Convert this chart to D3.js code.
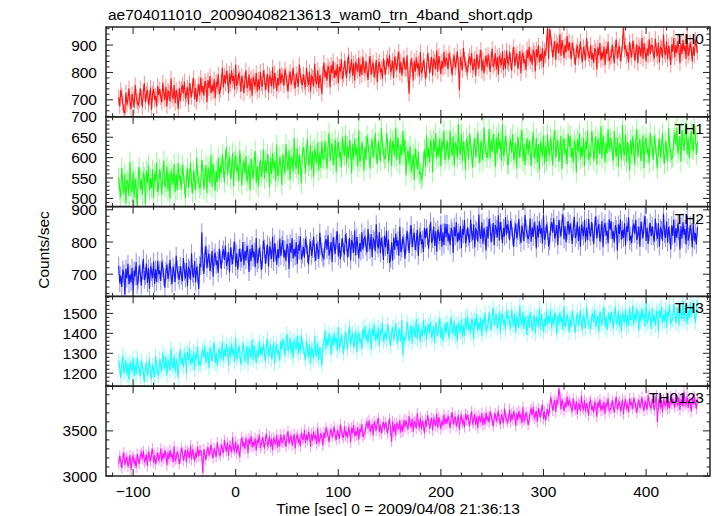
<!DOCTYPE html>
<html><head><meta charset="utf-8">
<script src="https://cdn.jsdelivr.net/npm/d3@7"></script>
<style>
body{margin:0;background:#fff;}
text{font-family:"Liberation Sans",Arial,Helvetica,sans-serif;fill:#000;}
</style></head>
<body><svg id="c" width="717" height="516"></svg>
<script>
// ---- data (1 s bins starting at t = -114 s) ----
const binStart = -114, binSize = 1;
const seriesNames = ["TH0","TH1","TH2","TH3","TH0123"];
const xTicks = [-100, 0, 100, 200, 300, 400];

const th0 = [
709,676,736,715,688,655,652,727,682,703,742,691,667,721,700,673,754,712,694,679,
697,742,709,673,730,760,691,721,736,682,706,745,664,724,739,700,715,676,751,718,
739,709,691,763,721,700,748,676,733,727,694,778,715,703,754,688,736,712,667,742,
695,740,755,722,767,704,719,746,683,761,734,710,752,779,701,743,692,728,758,716,
781,727,751,715,769,757,691,772,742,787,724,754,730,775,706,766,748,793,721,736,
766,817,745,790,760,805,781,724,796,757,808,769,787,739,829,751,763,799,778,730,
787,763,724,772,808,742,754,793,733,778,715,784,766,748,799,730,775,736,802,760,
747,807,783,735,765,795,726,789,777,750,819,741,798,771,732,780,753,813,759,792,
784,751,811,790,763,730,781,802,757,778,817,766,742,796,775,748,829,787,769,754,
793,763,745,817,775,754,802,730,787,781,748,832,769,757,808,742,790,766,721,796,
836,782,806,770,824,812,746,827,797,842,779,809,785,830,761,821,803,848,776,791,
842,818,779,827,863,797,809,848,788,833,770,839,821,803,854,785,830,791,857,815,
797,842,809,773,830,860,791,821,836,782,806,845,764,824,839,800,815,776,851,818,
792,837,852,819,864,801,816,843,780,858,831,807,849,876,798,840,789,825,855,813,
812,863,791,722,806,851,827,770,842,803,854,815,833,785,875,797,809,845,824,776,
809,869,845,797,827,857,788,851,839,812,881,803,860,833,794,842,815,875,821,854,
844,811,871,850,823,790,841,862,817,838,877,826,735,856,835,808,889,847,829,814,
799,844,859,826,871,808,823,850,787,865,838,814,856,883,805,847,796,832,862,820,
865,841,802,850,886,820,832,871,811,856,793,862,844,826,877,808,853,814,880,838,
830,875,842,806,863,893,824,854,869,815,839,878,797,857,872,833,848,809,884,851,
894,840,864,828,882,870,804,885,855,900,837,867,843,888,819,879,861,906,965,849,
958,927,903,855,885,915,846,909,897,870,939,861,918,891,852,900,873,933,879,912,
881,848,908,887,860,827,878,899,854,875,914,863,839,893,872,845,926,884,866,851,
901,847,871,835,889,877,811,892,862,907,844,874,850,895,826,886,868,913,841,856,
857,902,869,833,890,920,851,881,896,842,866,905,975,884,899,860,875,836,911,878,
855,915,891,843,873,903,834,897,885,858,927,849,906,879,840,888,861,921,867,900,
899,869,851,923,881,860,908,836,893,887,854,938,875,863,914,848,896,872,827,902,
876,927,855,900,870,915,891,834,906,867,918,879,897,849,939,861,873,909,888,840,
894,861,921,900,873];

const th1 = [
551,521,503,575,533,512,560,488,545,539,506,590,527,515,566,500,548,524,479,554,
576,522,546,510,564,552,486,567,537,582,519,549,525,570,501,561,543,588,516,531,
572,548,509,557,593,527,539,578,518,563,500,569,551,533,584,515,560,521,587,545,
555,522,582,561,534,501,552,573,528,549,588,537,513,567,546,519,600,558,540,525,
534,594,570,522,552,582,513,576,564,537,606,528,585,558,519,567,540,600,546,579,
563,608,575,539,596,626,557,587,602,548,572,611,530,590,605,566,581,542,617,584,
532,577,592,559,604,541,556,583,520,598,571,547,589,616,538,580,529,565,595,553,
569,620,548,593,563,608,584,527,599,560,611,572,590,542,632,554,566,602,581,533,
609,579,561,633,591,570,618,546,603,597,564,648,585,573,624,558,606,582,537,612,
625,601,562,610,646,580,592,631,571,616,553,622,604,586,637,568,613,574,640,598,
597,642,609,573,630,660,591,621,636,582,606,645,564,624,639,600,615,576,651,618,
604,655,583,628,598,643,619,562,634,595,646,607,625,577,667,589,601,637,616,568,
627,594,654,633,606,573,624,645,600,621,660,609,585,639,618,591,672,630,612,597,
599,659,635,587,617,647,578,641,629,602,671,593,650,623,584,632,605,665,611,644,
557,602,617,584,629,566,581,608,545,623,596,572,614,560,563,548,554,590,620,578,
654,600,624,588,642,630,564,645,615,660,597,627,603,648,579,639,621,666,594,609,
643,613,595,667,625,604,652,580,637,631,598,682,619,607,658,592,640,616,571,646,
629,596,656,635,608,575,626,647,602,623,662,611,587,641,620,593,674,632,614,599,
619,670,598,643,613,658,634,577,649,610,661,622,640,592,682,604,616,652,631,583,
585,630,645,612,657,594,609,636,573,651,624,600,642,669,591,633,582,618,648,606,
642,618,579,627,663,597,609,648,588,633,570,639,621,603,654,585,630,591,657,615,
605,650,617,581,638,668,599,629,644,590,614,653,572,632,647,608,623,584,659,626,
654,600,624,588,642,630,564,645,615,660,597,627,603,648,579,639,621,666,594,609,
604,664,640,592,622,652,583,646,634,607,676,598,655,628,589,637,610,670,616,649,
641,611,593,665,623,602,650,578,635,629,596,680,617,605,656,590,638,614,569,644,
607,652,619,583,640,670,601,631,646,592,616,655,574,634,649,610,625,586,661,628,
627,594,654,633,606,573,624,645,600,621,660,609,585,639,618,591,672,630,612,597,
602,647,662,629,674,611,626,653,590,668,641,617,659,686,608,650,599,635,665,623,
619,679,655,607,637];

const th2 = [
726,672,696,660,714,702,636,717,687,732,669,699,675,720,651,711,693,738,666,681,
727,703,664,712,748,682,694,733,673,718,655,724,706,688,739,670,715,676,742,700,
712,679,739,718,691,658,709,730,685,706,745,694,670,724,703,676,757,715,697,682,
726,696,678,750,708,687,735,663,720,714,681,765,702,690,741,675,723,699,654,729,
725,830,737,701,758,788,719,749,764,710,734,773,692,752,767,728,743,704,779,746,
717,762,777,744,789,726,741,768,705,783,756,732,774,801,723,765,714,750,780,738,
749,800,728,773,743,788,764,707,779,740,791,752,770,722,812,734,746,782,761,713,
744,804,780,732,762,792,723,786,774,747,816,738,795,768,729,777,750,810,756,789,
806,752,776,740,794,782,716,797,767,812,749,779,755,800,731,791,773,818,746,761,
784,751,811,790,763,730,781,802,757,778,817,766,742,796,775,748,829,787,769,754,
749,794,809,776,821,758,773,800,737,815,788,764,806,833,755,797,746,782,812,770,
764,824,800,752,782,812,743,806,794,767,836,758,815,788,749,797,770,830,776,809,
816,786,768,840,798,777,825,753,810,804,771,855,792,780,831,765,813,789,744,819,
784,835,763,808,735,748,799,742,814,775,826,787,805,757,847,769,781,817,796,748,
790,835,802,766,823,853,784,814,829,775,799,838,757,817,832,793,808,769,844,811,
842,818,779,827,863,797,809,848,788,833,770,839,821,803,854,785,830,791,857,815,
856,802,826,790,844,832,766,847,817,862,799,829,805,850,781,841,823,868,796,811,
846,816,798,870,828,807,855,783,840,834,801,885,822,810,861,795,843,819,774,849,
811,871,847,799,829,859,790,853,841,814,883,805,862,835,796,844,817,877,823,856,
839,806,866,845,818,785,836,857,812,833,872,821,797,851,830,803,884,842,824,809,
822,873,801,846,816,861,837,780,852,813,864,825,843,795,885,807,819,855,834,786,
802,847,862,829,874,811,826,853,790,868,841,817,859,886,808,850,799,835,865,823,
857,833,794,842,878,812,824,863,803,848,785,854,836,818,869,800,845,806,872,830,
817,862,829,793,850,880,811,841,856,802,826,865,784,844,859,820,835,796,871,838,
864,810,834,798,852,840,774,855,825,870,807,837,813,858,789,849,831,876,804,819,
797,842,857,824,869,806,821,848,785,863,836,812,854,881,803,845,794,830,860,818,
849,819,801,873,831,810,858,786,843,837,804,888,825,813,864,798,846,822,777,852,
819,870,798,843,813,858,834,777,849,810,861,822,840,792,882,804,816,852,831,783,
858,804,828,792,846];

const th3 = [
1261,1229,1177,1241,1289,1201,1217,1269,1189,1249,1165,1257,1233,1209,1277,1185,1245,1193,1281,1225,
1227,1183,1263,1235,1199,1155,1223,1251,1191,1219,1271,1203,1171,1243,1215,1179,1287,1231,1207,1187,
1273,1233,1209,1305,1249,1221,1285,1189,1265,1257,1213,1325,1241,1225,1293,1205,1269,1237,1177,1277,
1318,1246,1278,1230,1302,1286,1198,1306,1266,1326,1242,1282,1250,1310,1218,1298,1274,1334,1238,1258,
1241,1301,1321,1277,1337,1253,1273,1309,1225,1329,1293,1261,1317,1353,1249,1305,1237,1285,1325,1269,
1292,1360,1264,1324,1284,1344,1312,1236,1332,1280,1348,1296,1320,1256,1376,1272,1288,1336,1308,1244,
1272,1352,1320,1256,1296,1336,1244,1328,1312,1276,1368,1264,1340,1304,1252,1316,1280,1360,1288,1332,
1290,1350,1306,1258,1334,1374,1282,1322,1342,1270,1302,1354,1246,1326,1346,1294,1314,1262,1362,1318,
1371,1339,1287,1351,1399,1311,1327,1379,1299,1359,1275,1367,1343,1319,1387,1295,1355,1303,1391,1335,
1333,1293,1269,1365,1309,1281,1345,1249,1325,1317,1273,1385,1301,1285,1353,1265,1329,1297,1237,1337,
1347,1415,1319,1379,1339,1399,1367,1291,1387,1335,1403,1351,1375,1311,1431,1327,1343,1391,1363,1299,
1350,1410,1366,1318,1394,1434,1342,1382,1402,1330,1362,1414,1306,1386,1406,1354,1374,1322,1422,1378,
1438,1366,1398,1350,1422,1406,1318,1426,1386,1446,1362,1402,1370,1430,1338,1418,1394,1454,1358,1378,
1407,1363,1443,1415,1379,1335,1403,1431,1371,1399,1451,1383,1351,1423,1395,1359,1467,1290,1387,1367,
1377,1457,1425,1361,1401,1441,1349,1433,1417,1381,1473,1369,1445,1409,1357,1421,1385,1465,1393,1437,
1366,1426,1446,1402,1462,1378,1398,1434,1350,1454,1418,1386,1442,1478,1374,1430,1362,1410,1450,1394,
1456,1424,1372,1436,1484,1396,1412,1464,1384,1444,1360,1452,1428,1404,1472,1380,1440,1388,1476,1420,
1488,1416,1448,1400,1472,1456,1368,1476,1436,1496,1412,1452,1420,1480,1388,1468,1444,1504,1408,1428,
1445,1505,1461,1413,1489,1529,1437,1477,1497,1425,1457,1509,1401,1481,1501,1449,1469,1417,1517,1473,
1488,1448,1424,1520,1464,1436,1500,1404,1480,1472,1428,1540,1456,1440,1508,1420,1484,1452,1392,1492,
1427,1507,1475,1411,1451,1491,1399,1483,1467,1431,1523,1419,1495,1459,1407,1471,1435,1515,1443,1487,
1452,1520,1424,1484,1444,1504,1472,1396,1492,1440,1508,1456,1480,1416,1536,1432,1448,1496,1468,1404,
1474,1430,1510,1482,1446,1402,1470,1498,1438,1466,1518,1450,1418,1490,1462,1426,1534,1478,1454,1434,
1421,1481,1501,1457,1517,1433,1453,1489,1405,1509,1473,1441,1497,1533,1429,1485,1417,1465,1505,1449,
1506,1474,1422,1486,1534,1446,1462,1514,1434,1494,1410,1502,1478,1454,1522,1430,1490,1438,1526,1470,
1470,1538,1442,1502,1462,1522,1490,1414,1510,1458,1526,1474,1498,1434,1554,1450,1466,1514,1486,1422,
1528,1456,1488,1440,1512,1496,1408,1516,1476,1536,1452,1492,1460,1520,1428,1508,1484,1544,1448,1468,
1467,1547,1515,1451,1491,1531,1439,1523,1507,1471,1563,1459,1535,1499,1447,1511,1475,1555,1483,1527,
1536,1504,1452,1516,1564];

const th0123 = [
3135,3225,3159,3087,3201,3261,3123,3183,3213,3105,3153,3231,3069,3189,3219,3141,3171,3093,3243,3177,
3134,3224,3254,3188,3278,3152,3182,3236,3110,3266,3212,3164,3248,3302,3146,3230,3128,3200,3260,3176,
3203,3305,3161,3251,3191,3281,3233,3119,3263,3185,3287,3209,3245,3149,3329,3173,3197,3269,3227,3131,
3193,3313,3265,3169,3229,3289,3151,3277,3253,3199,3337,3181,3295,3241,3163,3259,3205,3325,3217,3283,
3283,3217,3030,3295,3241,3175,3277,3319,3229,3271,3349,3247,3199,3307,3265,3211,3373,3289,3253,3223,
3352,3292,3256,3400,3316,3274,3370,3226,3340,3328,3262,3430,3304,3280,3382,3250,3346,3298,3208,3358,
3432,3324,3372,3300,3408,3384,3252,3414,3354,3444,3318,3378,3330,3420,3282,3402,3366,3456,3312,3342,
3429,3381,3303,3399,3471,3339,3363,3441,3321,3411,3285,3423,3387,3351,3453,3315,3405,3327,3459,3375,
3370,3460,3394,3322,3436,3496,3358,3418,3448,3340,3388,3466,3304,3424,3454,3376,3406,3328,3478,3412,
3408,3510,3366,3456,3396,3486,3438,3324,3468,3390,3492,3414,3450,3354,3534,3378,3402,3474,3432,3336,
3483,3417,3537,3495,3441,3375,3477,3519,3429,3471,3549,3447,3399,3507,3465,3411,3573,3489,3453,3423,
3552,3444,3492,3420,3528,3504,3372,3534,3474,3564,3438,3498,3450,3540,3402,3522,3486,3576,3432,3462,
3474,3564,3594,3528,3618,3492,3522,3576,3450,3606,3552,3504,3588,3642,3486,3570,3468,3540,3600,3516,
3594,3546,3468,3564,3636,3504,3380,3606,3486,3576,3450,3588,3552,3516,3618,3480,3570,3492,3624,3540,
3617,3557,3521,3665,3581,3539,3635,3491,3605,3593,3527,3695,3569,3545,3647,3515,3611,3563,3473,3623,
3548,3668,3620,3524,3584,3644,3506,3632,3608,3554,3692,3536,3650,3596,3518,3614,3560,3680,3572,3638,
3580,3670,3604,3532,3646,3706,3568,3628,3658,3550,3598,3676,3514,3634,3664,3586,3616,3538,3688,3622,
3674,3626,3548,3644,3716,3584,3608,3686,3566,3656,3530,3668,3632,3596,3698,3560,3650,3572,3704,3620,
3658,3592,3712,3670,3616,3550,3652,3694,3604,3646,3724,3622,3574,3682,3640,3586,3748,3664,3628,3598,
3638,3740,3596,3686,3626,3716,3668,3554,3698,3620,3722,3644,3680,3584,3764,3608,3632,3704,3662,3566,
3619,3709,3739,3673,3763,3637,3667,3721,3595,3751,3697,3649,3733,3787,3631,3715,3613,3685,3745,3661,
3748,3868,3820,3724,3784,3844,3706,3832,3808,3970,3892,3736,3850,3796,3718,3814,3760,3880,3772,3838,
3812,3752,3716,3860,3776,3734,3830,3686,3800,3788,3722,3890,3764,3740,3842,3710,3806,3758,3668,3818,
3837,3729,3777,3705,3813,3789,3657,3819,3759,3849,3723,3783,3735,3825,3687,3807,3771,3861,3717,3747,
3750,3840,3774,3702,3816,3876,3738,3798,3828,3720,3768,3846,3684,3804,3834,3756,3786,3708,3858,3792,
3808,3742,3862,3820,3766,3700,3802,3844,3754,3796,3874,3772,3724,3832,3790,3736,3898,3814,3778,3748,
3854,3806,3728,3824,3896,3600,3788,3866,3746,3836,3710,3848,3812,3776,3878,3740,3830,3752,3884,3800,
3857,3797,3761,3905,3821,3779,3875,3731,3845,3833,3767,3935,3809,3785,3887,3755,3851,3803,3713,3863,
3790,3880,3814,3742,3856];

// 1-sigma errors (counts/sec) per series
const errors = [28, 25, 28, 37, 60];
const yTickValues = [[700,800,900],[500,550,600,650,700],[700,800,900],[1200,1300,1400,1500],[3000,3500]];

// ---- layout ----
const svg = d3.select("#c");
const L = 106, R = 710, TOP = 27, PH = 89.8;
const x = d3.scaleLinear().domain([-126.4, 462.3]).range([L, R]);
const panelCfg = [
  {values: th0, color: "#ff0000", domain: [638, 966], minor: 20},
  {values: th1, color: "#00ff00", domain: [480, 700], minor: 10},
  {values: th2, color: "#0000ff", domain: [631, 910], minor: 20},
  {values: th3, color: "#00ffff", domain: [1135, 1585], minor: 20},
  {values: th0123, color: "#ff00ff", domain: [3000, 3995], minor: 100}
];

svg.append("text").attr("x", 108).attr("y", 20).attr("font-size", 15.5)
  .text("ae704011010_20090408213613_wam0_trn_4band_short.qdp");

const defs = svg.append("defs");
panelCfg.forEach((p, i) => {
  const y0 = TOP + i * PH, y1 = y0 + PH;
  const y = d3.scaleLinear().domain(p.domain).range([y1, y0]);
  const g = svg.append("g");
  const cid = "clip" + i;
  defs.append("clipPath").attr("id", cid).append("rect")
    .attr("x", L).attr("y", y0).attr("width", R - L).attr("height", PH);
  const pts = p.values.map((v, k) => ({t: binStart + k * binSize, v}));
  const dg = g.append("g").attr("clip-path", `url(#${cid})`);
  dg.selectAll("line.err").data(pts).enter().append("line")
    .attr("x1", d => x(d.t)).attr("x2", d => x(d.t))
    .attr("y1", d => y(d.v - errors[i])).attr("y2", d => y(d.v + errors[i]))
    .attr("stroke", p.color).attr("stroke-opacity", 0.45).attr("stroke-width", 1);
  dg.append("path").datum(pts)
    .attr("d", d3.line().x(d => x(d.t)).y(d => y(d.v)))
    .attr("fill", "none").attr("stroke", p.color).attr("stroke-width", 1.15)
    .attr("stroke-opacity", 0.88);

  // ticks
  const tk = g.append("g").attr("stroke", "#222").attr("stroke-width", 1);
  d3.range(-120, 461, 20).forEach(t => {
    const len = t % 100 === 0 ? 7 : 3.5;
    tk.append("line").attr("x1", x(t)).attr("x2", x(t)).attr("y1", y1).attr("y2", y1 - len);
    tk.append("line").attr("x1", x(t)).attr("x2", x(t)).attr("y1", y0).attr("y2", y0 + len);
  });
  const lo = Math.ceil(p.domain[0] / p.minor) * p.minor;
  d3.range(lo, p.domain[1] + 0.001, p.minor).forEach(v => {
    const len = yTickValues[i].includes(v) ? 7 : 3.5;
    tk.append("line").attr("x1", L).attr("x2", L + len).attr("y1", y(v)).attr("y2", y(v));
    tk.append("line").attr("x1", R).attr("x2", R - len).attr("y1", y(v)).attr("y2", y(v));
  });
  yTickValues[i].forEach(v => {
    g.append("text").attr("x", 97).attr("y", y(v)).attr("dy", "0.36em")
      .attr("text-anchor", "end").attr("font-size", 15.5).text(v);
  });
  g.append("rect").attr("x", L).attr("y", y0).attr("width", R - L).attr("height", PH)
    .attr("fill", "none").attr("stroke", "#222").attr("stroke-width", 1.5);
  g.append("text").attr("x", 704).attr("y", y0 + 17).attr("text-anchor", "end")
    .attr("font-size", 15.5).text(seriesNames[i]);
});

const fmt = d3.format("d");
const yb = TOP + 5 * PH;
xTicks.forEach(t => {
  svg.append("text").attr("x", x(t)).attr("y", yb + 21).attr("text-anchor", "middle")
    .attr("font-size", 15.5).text(fmt(t));
});
svg.append("text").attr("x", 398).attr("y", 514).attr("text-anchor", "middle")
  .attr("font-size", 15.5).text("Time [sec] 0 = 2009/04/08 21:36:13");
svg.append("text").attr("transform", "translate(49,250) rotate(-90)")
  .attr("text-anchor", "middle").attr("font-size", 15.5).text("Counts/sec");
</script></body></html>
